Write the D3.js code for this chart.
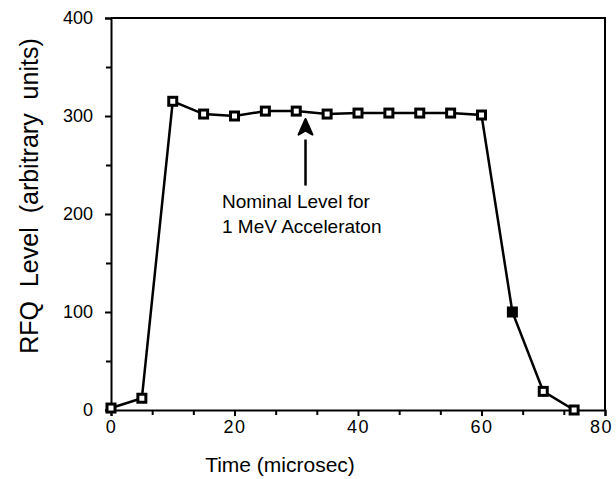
<!DOCTYPE html>
<html>
<head>
<meta charset="utf-8">
<script src="https://cdn.jsdelivr.net/npm/d3@7"></script>
<style>
  body { margin: 0; background: #fff; }
  text { font-family: "Liberation Sans", Arial, sans-serif; fill: #000; }
</style>
</head>
<body>
<svg id="chart"></svg>
<script>
// Chart data
const times = [0, 5, 10, 15, 20, 25, 30, 35, 40, 45, 50, 55, 60, 65, 70, 75];
const levels = [2, 12, 315, 302, 300, 305, 305, 302, 303, 303, 303, 303, 301, 100, 19, 0];
const xTicks = [0, 20, 40, 60, 80];
const yTicks = [0, 100, 200, 300, 400];
const filledPoints = [65]; // markers that look solid black

const width = 616, height = 479;
const svg = d3.select("#chart").attr("width", width).attr("height", height);

// Scales
const x = d3.scaleLinear().domain([0, 80]).range([111, 605]);
const y = d3.scaleLinear().domain([0, 400]).range([410, 18]);

// Frame (top and right)
svg.append("path")
    .attr("d", `M${x(0)},${y(400)}H${x(80)}V${y(0)}`)
    .attr("fill", "none")
    .attr("stroke", "#000")
    .attr("stroke-width", 2);

// Y axis with minor ticks
const yAxis = svg.append("g").attr("transform", `translate(${x(0)},0)`)
    .call(d3.axisLeft(y).tickValues(yTicks).tickSize(6).tickPadding(12));
svg.append("g").attr("transform", `translate(${x(0)},0)`)
    .call(d3.axisLeft(y).tickValues(d3.range(50, 400, 100)).tickSize(5).tickFormat(""))
    .select(".domain").remove();

// X axis with minor ticks every 20/3
const xAxis = svg.append("g").attr("transform", `translate(0,${y(0)})`)
    .call(d3.axisBottom(x).tickValues(xTicks).tickSize(6).tickPadding(4));
svg.append("g").attr("transform", `translate(0,${y(0)})`)
    .call(d3.axisBottom(x).tickValues(d3.range(1, 12).filter(i => i % 3 !== 0).map(i => i * 20 / 3))
        .tickSize(5).tickFormat(""))
    .select(".domain").remove();

svg.selectAll(".domain").attr("stroke-width", 2);
svg.selectAll(".tick line").attr("stroke-width", 2);
yAxis.selectAll("text").style("font-size", "18px");
xAxis.selectAll("text").style("font-size", "18px").style("letter-spacing", "1.5px");
// keep the last label inside the window
xAxis.selectAll("text").filter(d => d === 80).attr("dx", -4);

// Data line
const line = d3.line().x((d, i) => x(times[i])).y(d => y(d));
svg.append("path")
    .datum(levels)
    .attr("d", line)
    .attr("fill", "none")
    .attr("stroke", "#000")
    .attr("stroke-width", 2.5);

// Square markers
svg.selectAll(".pt")
    .data(levels)
    .enter().append("rect")
    .attr("class", "pt")
    .attr("x", (d, i) => x(times[i]) - 4)
    .attr("y", d => y(d) - 4)
    .attr("width", 8)
    .attr("height", 8)
    .attr("fill", (d, i) => filledPoints.includes(times[i]) ? "#000" : "#fff")
    .attr("stroke", "#000")
    .attr("stroke-width", 3);

// Annotation arrow
const ax = x(31.5);
svg.append("line")
    .attr("x1", ax).attr("x2", ax)
    .attr("y1", y(276)).attr("y2", y(229))
    .attr("stroke", "#000").attr("stroke-width", 2.5);
svg.append("path")
    .attr("d", `M${ax},${y(297)}L${ax + 7},${y(281)}L${ax},${y(285)}L${ax - 7},${y(281)}Z`)
    .attr("fill", "#000")
    .attr("stroke", "#000")
    .attr("stroke-width", 2)
    .attr("stroke-linejoin", "round");

svg.append("text")
    .attr("x", 222).attr("y", 208)
    .style("font-size", "19px")
    .text("Nominal Level for");
svg.append("text")
    .attr("x", 222).attr("y", 233)
    .style("font-size", "19px")
    .text("1 MeV Acceleraton");

// Axis titles
svg.append("text")
    .attr("x", 280).attr("y", 472)
    .attr("text-anchor", "middle")
    .style("font-size", "21px")
    .text("Time (microsec)");

svg.append("text")
    .attr("transform", "translate(38,196) rotate(-90)")
    .attr("text-anchor", "middle")
    .style("font-size", "25px")
    .style("word-spacing", "7px")
    .text("RFQ Level (arbitrary units)");
</script>
</body>
</html>
